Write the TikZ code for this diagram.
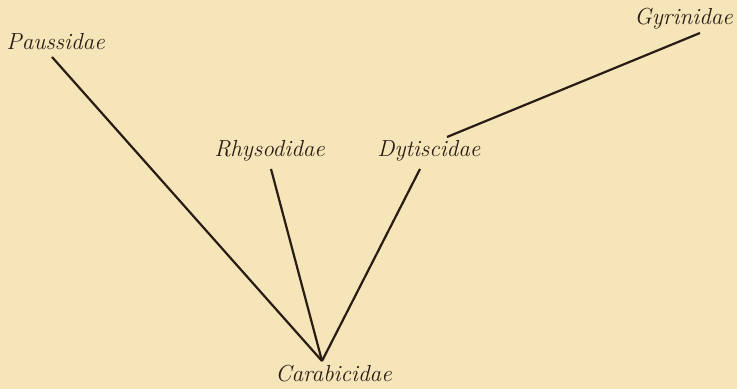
\documentclass[tikz,border=0pt]{standalone}
\usepackage{fontspec}
\definecolor{paper}{RGB}{246,229,185}
\definecolor{ink}{RGB}{40,28,20}
\begin{document}
\begin{tikzpicture}[x=0.5pt,y=-0.5pt,
  taxon/.style={anchor=base west,inner sep=0pt,text=ink,font=\fontsize{11.6}{14}\selectfont\itshape},
  branch/.style={draw=ink,line width=1.1pt}]
\fill[paper] (0,0) rectangle (737,389);
\useasboundingbox (0,0) rectangle (737,389);
\node[taxon] (pau) at (6,50) {Paussidae};
\node[taxon] (rhy) at (214,157) {Rhysodidae};
\node[taxon] (dyt) at (377,157) {Dytiscidae};
\node[taxon] (gyr) at (634,25) {Gyrinidae};
\node[taxon] (car) at (275,381) {Carabicidae};
\coordinate (root) at (322,361);
\coordinate (pauEnd) at (52,57);
\coordinate (rhyEnd) at (271,169);
\coordinate (dytEnd) at (420,169);
\coordinate (dytTop) at (447,137);
\coordinate (gyrEnd) at (700,33);
\draw[branch] (pauEnd) -- (root);
\draw[branch] (rhyEnd) -- (root);
\draw[branch] (dytEnd) -- (root);
\draw[branch] (dytTop) -- (gyrEnd);
\end{tikzpicture}
\end{document}
